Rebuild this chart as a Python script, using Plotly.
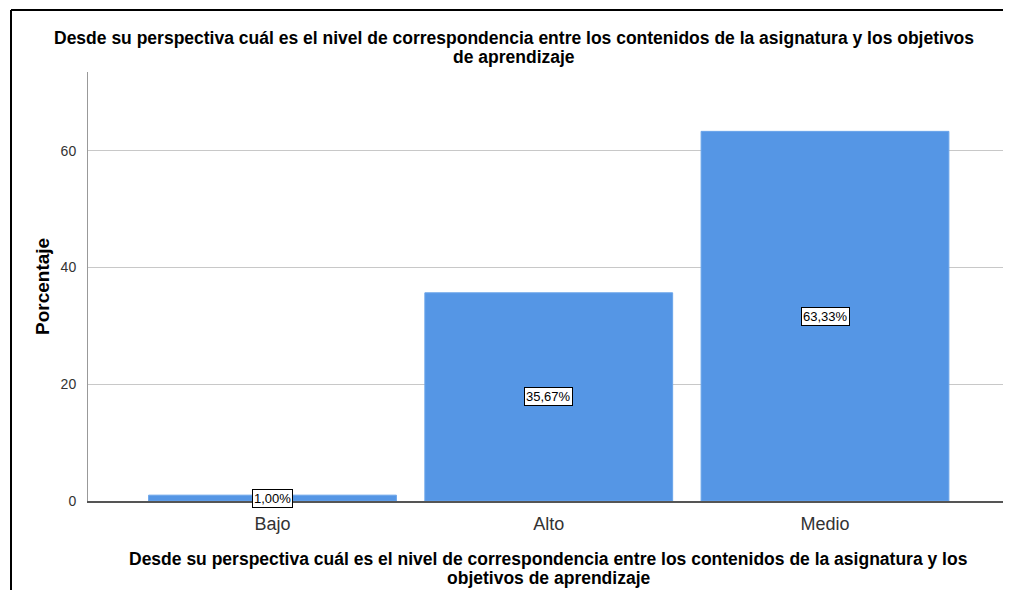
import plotly.graph_objects as go

categories = ["Bajo", "Alto", "Medio"]
values = [1.00, 35.67, 63.33]
labels = ["1,00%", "35,67%", "63,33%"]
y_ticks = [0, 20, 40, 60]

title_lines = ["Desde su perspectiva cuál es el nivel de correspondencia entre los contenidos de la asignatura y los objetivos",
               "de aprendizaje"]
xtitle_lines = ["Desde su perspectiva cuál es el nivel de correspondencia entre los contenidos de la asignatura y los",
                "objetivos de aprendizaje"]
ytitle = "Porcentaje"

FONT = "Liberation Sans, Arial, sans-serif"
OFF = 8  # page body margin
W, H = 1011 - 2 * OFF, 598 - 2 * OFF
L, R, T, B = 88 - OFF, 0, 72 - OFF, 598 - 501 - OFF
pw, ph = W - L - R, H - T - B

def px(x):
    return (x - OFF - L) / pw

def py(y):
    return 1 - (y - OFF - T) / ph

# category scale: centres at window px 272.5 (Bajo) and 825 (Medio)
step = (825 - 272.5) / 2
x_lo = -(272.5 - 88) / step
x_hi = x_lo + pw / step

fig = go.Figure()
fig.add_trace(go.Bar(
    x=list(range(len(categories))), y=values,
    marker=dict(color="#5596E5", line=dict(color="#6BA5EA", width=1)),
    width=0.897, hoverinfo="skip",
))

for i, (v, lab) in enumerate(zip(values, labels)):
    fig.add_annotation(
        x=i, y=v / 2, xref="x", yref="y", text=lab, showarrow=False,
        font=dict(family=FONT, size=13, color="#000"),
        bgcolor="white", bordercolor="#000", borderwidth=1, borderpad=1,
    )

# titles
for txt, yy in zip(title_lines, [38, 57]):
    fig.add_annotation(x=px(514), y=py(yy), xref="paper", yref="paper", text="<b>" + txt + "</b>",
                       showarrow=False, xanchor="center", yanchor="middle",
                       font=dict(family=FONT, size=17.5, color="#000"))
for txt, yy in zip(xtitle_lines, [559, 578]):
    fig.add_annotation(x=px(548.5), y=py(yy), xref="paper", yref="paper", text="<b>" + txt + "</b>",
                       showarrow=False, xanchor="center", yanchor="middle",
                       font=dict(family=FONT, size=17.5, color="#000"))
fig.add_annotation(x=px(42), y=py(287), xref="paper", yref="paper", text="<b>" + ytitle + "</b>",
                   showarrow=False, xanchor="center", yanchor="middle", textangle=-90,
                   font=dict(family=FONT, size=19, color="#000"))

# frame lines (top and left)
fig.add_shape(type="line", xref="paper", yref="paper",
              x0=px(11), x1=px(1011 - OFF), y0=py(10), y1=py(10),
              line=dict(color="#000", width=2))
fig.add_shape(type="line", xref="paper", yref="paper",
              x0=px(11), x1=px(11), y0=py(10), y1=py(598 - OFF),
              line=dict(color="#000", width=2))

fig.update_layout(
    width=W, height=H,
    margin=dict(l=L, r=R, t=T, b=B),
    paper_bgcolor="white", plot_bgcolor="white",
    showlegend=False,
    xaxis=dict(
        range=[x_lo, x_hi], tickmode="array",
        tickvals=list(range(len(categories))), ticktext=categories,
        tickfont=dict(family=FONT, size=18, color="#333"),
        showline=True, linecolor="#555", linewidth=1.5, showgrid=False, zeroline=False,
        ticks="", ticklabelstandoff=6,
    ),
    yaxis=dict(
        range=[0, 73.5], tickmode="array", tickvals=y_ticks,
        ticktext=[str(t) for t in y_ticks],
        tickfont=dict(family=FONT, size=14, color="#333"),
        showline=True, linecolor="#999", linewidth=1,
        showgrid=True, gridcolor="#C8C8C8", gridwidth=1, zeroline=False,
        ticks="", ticklabelstandoff=8,
    ),
)

fig.write_html("out.html")
